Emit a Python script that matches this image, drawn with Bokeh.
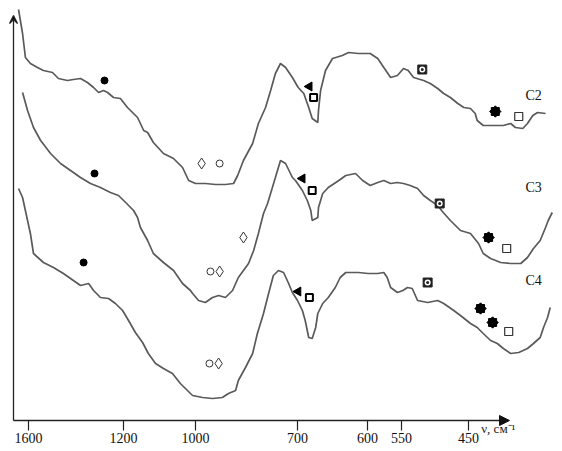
import numpy as np
from bokeh.plotting import figure
from bokeh.models import Range1d, FixedTicker, Arrow, NormalHead, VeeHead
from bokeh.embed import file_html
from bokeh.resources import INLINE
from bokeh.core.properties import value

# ---- axis (non-uniform wavenumber scale, as drawn in the original) ----
tick_wn = [1600, 1200, 1000, 700, 600, 550, 450]
tick_labels = ["1600", "1200", "1000", "700", "600", "550", "450"]
tick_pos = [28, 123, 195, 297, 367, 401, 468]
axis_title = "ν, см⁻¹"
axis_title_wn, axis_title_h = 431, -8

# ---- spectra: wavenumber (cm-1) and relative height (arb. units) ----
c2_wn = [1642, 1625, 1613, 1592, 1562, 1537, 1499, 1474, 1436, 1411, 1381, 1352, 1326, 1305, 1284, 1267,
         1242, 1213, 1189, 1172, 1161, 1153, 1144, 1133, 1117, 1089, 1061, 1036, 1019, 1000, 971, 941,
         912, 888, 876, 859, 832, 815, 794, 779, 765, 750, 735, 715, 699, 691, 684, 679, 671, 670, 667,
         660, 650, 636, 627, 613, 596, 585, 576, 566, 556, 547, 540, 532, 517, 507, 496, 487, 477, 466,
         457, 447, 440, 437, 428, 413, 398, 387, 380, 369, 362, 354, 347, 335]
c2_h = [411, 387, 363, 357, 353, 350, 348, 342, 340, 341, 342, 338, 333, 328, 330, 328,
        323, 322, 313, 307, 303, 297, 290, 288, 278, 267, 262, 253, 240, 237, 237, 236,
        236, 237, 245, 260, 277, 297, 313, 330, 347, 357, 353, 343, 333, 327, 313, 302, 298, 310, 330,
        350, 362, 365, 368, 367, 367, 362, 353, 343, 345, 352, 350, 343, 340, 337, 332, 327, 323, 317,
        313, 312, 307, 300, 295, 295, 295, 297, 293, 292, 297, 305, 308, 307]

c3_wn = [1625, 1604, 1579, 1549, 1507, 1465, 1423, 1381, 1339, 1297, 1255, 1221, 1194, 1172, 1161, 1153,
         1133, 1117, 1089, 1061, 1036, 1014, 1008, 991, 971, 950, 932, 912, 891, 874, 844, 829, 815, 800,
         788, 765, 750, 735, 715, 706, 693, 686, 681, 679, 671, 670, 664, 656, 641, 631, 617, 607, 596,
         585, 576, 566, 556, 547, 537, 526, 517, 507, 496, 489, 477, 462, 447, 435, 428, 417, 402, 387,
         372, 362, 353, 343, 335, 331, 325]
c3_h = [328, 310, 293, 280, 267, 257, 250, 243, 237, 233, 228, 225, 218, 210, 203, 193,
        180, 167, 158, 150, 137, 130, 127, 120, 118, 123, 125, 123, 130, 143, 157, 170, 187, 207,
        217, 243, 260, 257, 243, 240, 230, 220, 210, 200, 203, 213, 227, 233, 240, 245, 247, 240, 235,
        238, 240, 237, 238, 237, 235, 232, 225, 220, 215, 209, 200, 190, 187, 177, 167, 162, 158, 157,
        157, 163, 172, 180, 193, 200, 208]

c4_wn = [1642, 1625, 1604, 1592, 1579, 1537, 1495, 1453, 1411, 1381, 1347, 1326, 1297, 1263, 1234, 1204,
         1186, 1167, 1147, 1131, 1111, 1089, 1064, 1042, 1014, 1008, 979, 950, 921, 903, 882, 874, 853,
         832, 818, 800, 785, 771, 756, 741, 726, 715, 700, 693, 689, 684, 679, 674, 671, 664, 656, 646,
         639, 631, 613, 599, 585, 576, 571, 566, 556, 548, 541, 534, 526, 511, 496, 487, 472, 462, 447,
         437, 428, 417, 407, 398, 387, 375, 362, 353, 343, 338, 332, 328]
c4_h = [232, 223, 200, 187, 167, 158, 153, 147, 140, 135, 137, 130, 123, 122, 117, 110,
        100, 88, 78, 67, 57, 52, 47, 37, 27, 25, 23, 22, 23, 27, 30, 40, 53,
        67, 87, 107, 127, 145, 150, 148, 137, 128, 120, 110, 100, 83, 82, 93, 107, 117, 123, 133,
        143, 148, 148, 147, 147, 148, 143, 133, 128, 130, 133, 132, 120, 118, 120, 117, 110, 105, 97,
        93, 87, 80, 77, 72, 67, 68, 72, 77, 83, 93, 103, 113]

curve_names = ["C2", "C3", "C4"]
name_wn = [365, 365, 365]
name_h = [325, 233, 140]

# ---- band markers ----
dot_wn, dot_h = [1280, 1322, 1368], [340, 247, 158]
ocircle_wn, ocircle_h = [929, 956, 959], [257, 149, 57]
diamond_wn, diamond_h = [982, 859, 929, 932], [257, 183, 149, 57]
tri_wn, tri_h = [683, 693, 699], [334, 242, 129]
bsq_wn, bsq_h = [677, 679, 683], [323, 230, 123]
boxc_wn, boxc_h = [519, 493, 511], [351, 217, 138]
star_wn, star_h = [410, 420, 432, 414], [309, 183, 112, 98]
osq_wn, osq_h = [375, 393, 390], [304, 172, 89]


def to_pos(wn):
    wn = np.atleast_1d(np.asarray(wn, float))
    xp = np.array(tick_wn[::-1], float)
    fp = np.array(tick_pos[::-1], float)
    out = np.interp(wn, xp, fp)
    lo = wn < xp[0]
    out[lo] = fp[0] + (wn[lo] - xp[0]) * (fp[1] - fp[0]) / (xp[1] - xp[0])
    hi = wn > xp[-1]
    out[hi] = fp[-1] + (wn[hi] - xp[-1]) * (fp[-1] - fp[-2]) / (xp[-1] - xp[-2])
    return out


p = figure(width=560, height=449, output_backend="svg", toolbar_location=None,
           x_range=Range1d(0, 560), y_range=Range1d(-29, 420),
           min_border_left=0, min_border_right=0, min_border_top=0, min_border_bottom=0)
p.outline_line_color = None
p.xgrid.visible = False
p.ygrid.visible = False
p.yaxis.visible = False
p.background_fill_color = "white"

ax = p.xaxis[0]
ax.fixed_location = 0
ax.ticker = FixedTicker(ticks=[float(v) for v in tick_pos])
ax.major_label_overrides = {float(v): s for v, s in zip(tick_pos, tick_labels)}
ax.axis_line_color = None
ax.minor_tick_line_color = None
ax.major_tick_in = 0
ax.major_tick_out = 10
ax.major_tick_line_color = "#222222"
ax.major_tick_line_width = 1.2
ax.major_label_standoff = 2
ax.major_label_text_font = "Liberation Serif"
ax.major_label_text_font_size = "14px"
ax.major_label_text_color = "#111111"

line_col = "#5a5a5a"
for wn, h in [(c2_wn, c2_h), (c3_wn, c3_h), (c4_wn, c4_h)]:
    p.line(to_pos(wn), h, line_color=line_col, line_width=1.7)

# axes with arrows
p.add_layout(Arrow(end=VeeHead(size=8, line_color="#222222", line_width=1.2),
                   x_start=13, y_start=0, x_end=13, y_end=405,
                   line_color="#222222", line_width=1.3))
p.add_layout(Arrow(end=NormalHead(size=10, fill_color="#111111", line_color="#111111"),
                   x_start=13, y_start=0, x_end=509, y_end=0,
                   line_color="#222222", line_width=1.5))

p.text(to_pos([axis_title_wn]), [axis_title_h], text=[axis_title], text_font=value("Liberation Serif"),
       text_font_size="13px", text_baseline="middle", text_align="left", text_color="#222222")

p.text(to_pos(name_wn), name_h, text=curve_names, text_font=value("Liberation Serif"),
       text_font_size="14px", text_baseline="middle", text_align="left", text_color="#111111")

# markers
p.scatter(to_pos(dot_wn), dot_h, marker="circle", size=7, fill_color="black", line_color="black")
p.scatter(to_pos(ocircle_wn), ocircle_h, marker="circle", size=7, fill_color="white",
          line_color="#333333", line_width=1)
p.scatter(to_pos(diamond_wn), diamond_h, marker="diamond", size=11, fill_color="white",
          line_color="#333333", line_width=1)
p.scatter(to_pos(tri_wn), tri_h, marker="triangle", size=9, angle=np.pi / 2,
          fill_color="black", line_color="black")
p.scatter(to_pos(bsq_wn), bsq_h, marker="square", size=7, fill_color="white",
          line_color="black", line_width=2)
p.scatter(to_pos(boxc_wn), boxc_h, marker="square", size=9, fill_color="#222222", line_color="#222222")
p.scatter(to_pos(boxc_wn), boxc_h, marker="circle", size=6, fill_color="white", line_color=None)
p.scatter(to_pos(boxc_wn), boxc_h, marker="circle", size=3, fill_color="#222222", line_color=None)
p.scatter(to_pos(star_wn), star_h, marker="square", size=8, fill_color="black", line_color="black")
p.scatter(to_pos(star_wn), star_h, marker="square", size=8, angle=np.pi / 4,
          fill_color="black", line_color="black")
p.scatter(to_pos(osq_wn), osq_h, marker="square", size=8, fill_color="white",
          line_color="#333333", line_width=1.2)

open("out.html", "w").write(file_html(p, INLINE))
